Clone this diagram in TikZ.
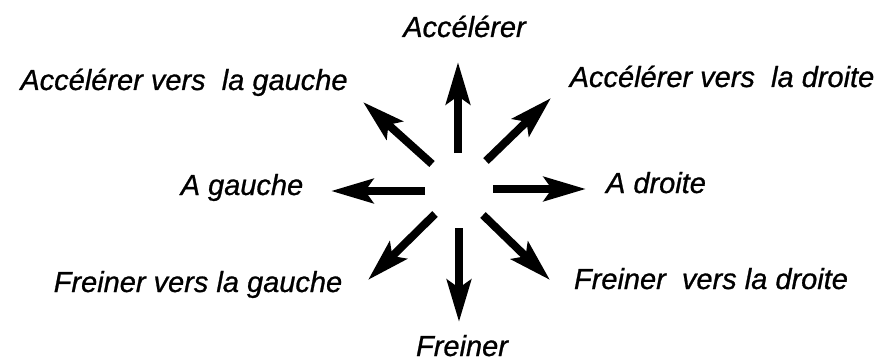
\documentclass[tikz,border=0pt]{standalone}
\usepackage{fontspec}
\setmainfont{Liberation Sans}
\newfontfamily\lblfont[FakeBold=0.8]{Liberation Sans}
\usetikzlibrary{arrows.meta}
\tikzset{
  lbl/.style={anchor=base, inner sep=0pt, font=\lblfont\fontsize{29}{32}\selectfont\itshape},
  bigarrow/.style={line width=8pt, -{Stealth[length=42pt, width=24pt, inset=8pt]}},
}
\begin{document}
\begin{tikzpicture}[x=1pt, y=-1pt]
\useasboundingbox (0,0) rectangle (887,361);
% labels
\node[lbl] (acc)  at (464.5,37) {Accélérer};
\node[lbl] (accg) at (184,90) {Accélérer vers~~la gauche};
\node[lbl] (accd) at (722,87) {Accélérer vers~~la droite};
\node[lbl] (g)    at (242,195) {A gauche};
\node[lbl] (d)    at (656,193) {A droite};
\node[lbl] (frg)  at (198,292) {Freiner vers la gauche};
\node[lbl] (frd)  at (711,289) {Freiner~~vers la droite};
\node[lbl, text depth=0pt] (fr) at (462,356) {Freiner};
% arrow ends
\coordinate (c) at (459,190);
\coordinate (tN)  at (458,153);  \coordinate (hN)  at (458,62);
\coordinate (tNE) at (486,161);  \coordinate (hNE) at (551,98);
\coordinate (tNW) at (432,164);  \coordinate (hNW) at (363,102);
\coordinate (tW)  at (425,191);  \coordinate (hW)  at (331,191);
\coordinate (tE)  at (493,189);  \coordinate (hE)  at (586,189);
\coordinate (tSW) at (435,214);  \coordinate (hSW) at (368,280);
\coordinate (tS)  at (459,228);  \coordinate (hS)  at (459,322);
\coordinate (tSE) at (483,215);  \coordinate (hSE) at (550,280);
\draw[bigarrow] (tN) -- (hN);
\draw[bigarrow] (tNE) -- (hNE);
\draw[bigarrow] (tNW) -- (hNW);
\draw[bigarrow] (tW) -- (hW);
\draw[bigarrow] (tE) -- (hE);
\draw[bigarrow] (tSW) -- (hSW);
\draw[bigarrow] (tS) -- (hS);
\draw[bigarrow] (tSE) -- (hSE);
\end{tikzpicture}
\end{document}
